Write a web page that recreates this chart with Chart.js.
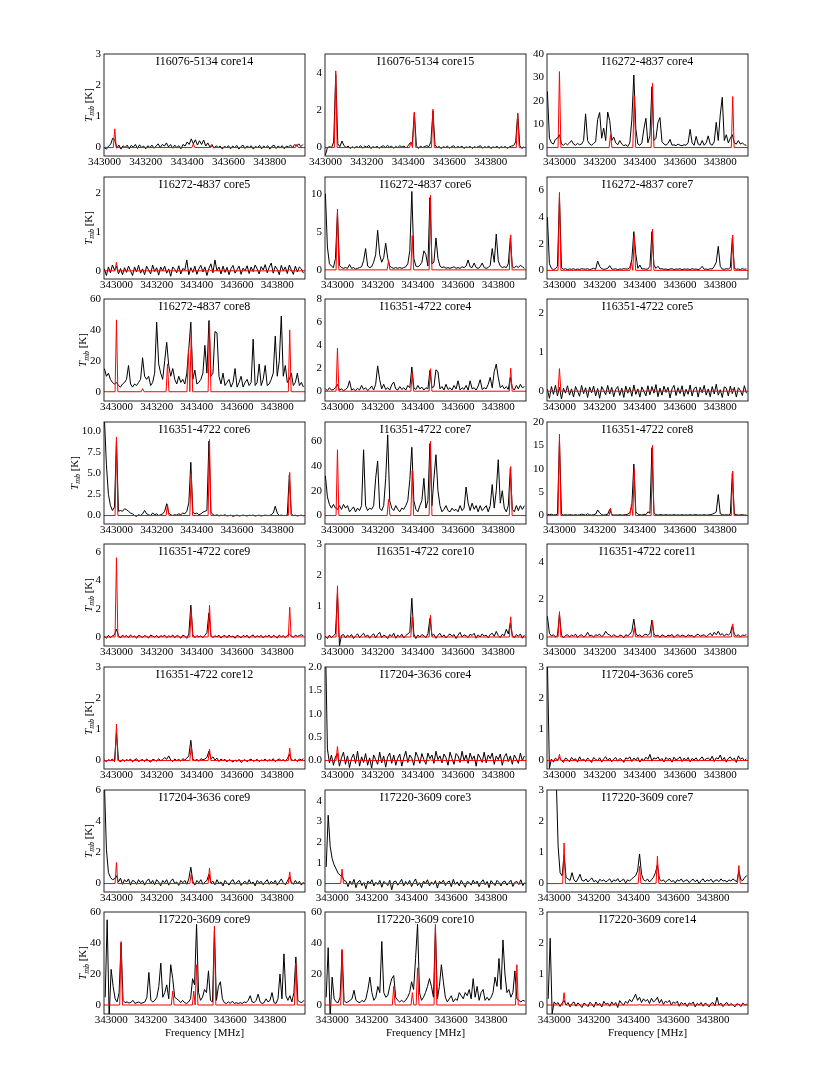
<!DOCTYPE html>
<html><head><meta charset="utf-8">
<script src="https://cdn.jsdelivr.net/npm/chart.js@4.4.1/dist/chart.umd.min.js"></script>
<style>
html,body{margin:0;padding:0;background:#fff;}
#fig{position:relative;width:830px;height:1068px;overflow:hidden;background:#fff;}
#fig canvas{position:absolute;}
</style></head><body><div id="fig"></div>
<script>
// ---------------- data ----------------
const panelTitles = [
 "I16076-5134 core14","I16076-5134 core15","I16272-4837 core4",
 "I16272-4837 core5","I16272-4837 core6","I16272-4837 core7",
 "I16272-4837 core8","I16351-4722 core4","I16351-4722 core5",
 "I16351-4722 core6","I16351-4722 core7","I16351-4722 core8",
 "I16351-4722 core9","I16351-4722 core10","I16351-4722 core11",
 "I16351-4722 core12","I17204-3636 core4","I17204-3636 core5",
 "I17204-3636 core9","I17220-3609 core3","I17220-3609 core7",
 "I17220-3609 core9","I17220-3609 core10","I17220-3609 core14"];
const freqMin = [342998,342998,342938, 342938,342938,342938, 342938,342938,342938, 342938,342938,342938,
                 342938,342938,342938, 342938,342938,342938, 342938,342964,342964, 342964,342964,342964];
const freqMax = [343970,343970,343938, 343938,343938,343938, 343938,343938,343938, 343938,343938,343938,
                 343938,343938,343938, 343938,343938,343938, 343938,343976,343976, 343976,343976,343976];
const firstChannel = [343000,343000,342940, 342940,342940,342940, 342940,342940,342940, 342940,342940,342940,
                      342940,342940,342940, 342940,342940,342940, 342940,342970,342970, 342970,342970,342970];
const channelStep = 10;
const yMin = [-0.27,-0.45,-3.6, -0.21,-1.2,-0.65, -6,-0.85,-0.25, -1.0,-6.8,-1.8,
              -0.64,-0.29,-0.48, -0.27,-0.18,-0.27, -0.54,-0.41,-0.27, -5.8,-5.8,-0.29];
const yMax = [3,5.0,40, 2.41,12.2,7.0, 60,8,2.36, 11.07,75.4,20, 6.57,3,4.95, 3,2.0,3, 6,4.52,3, 60,60,3];
const yTicks = [[0,1,2,3],[0,2,4],[0,10,20,30,40],
  [0,1,2],[0,5,10],[0,2,4,6],
  [0,20,40,60],[0,2,4,6,8],[0,1,2],
  [0,2.5,5,7.5,10],[0,20,40,60],[0,5,10,15,20],
  [0,2,4,6],[0,1,2,3],[0,2,4],
  [0,1,2,3],[0,0.5,1,1.5,2],[0,1,2,3],
  [0,2,4,6],[0,1,2,3,4],[0,1,2,3],
  [0,20,40,60],[0,20,40,60],[0,1,2,3]];
const yTickDecimals = [0,0,0, 0,0,0, 0,0,0, 1,0,0, 0,0,0, 0,1,0, 0,0,0, 0,0,0];
const xTicks = [343000,343200,343400,343600,343800];

// observed spectra (black), one value per 10 MHz channel starting at firstChannel
const spec01 = [0.00,-0.05,0.05,0.10,0.30,0.25,-0.02,0.08,-0.05,0.06,
 0.00,0.08,-0.04,0.07,0.02,0.10,-0.03,0.09,0.00,0.05,
 -0.04,0.06,0.00,0.08,-0.02,0.05,0.12,0.00,0.10,0.05,
 0.15,0.02,0.10,-0.02,0.08,0.00,0.06,-0.04,0.10,0.05,
 0.18,0.10,0.28,0.12,0.25,0.08,0.22,0.10,0.24,0.05,
 0.15,0.02,0.10,-0.02,0.06,0.00,0.05,-0.05,0.04,0.00,
 0.06,-0.04,0.05,0.00,0.07,-0.05,0.03,0.08,-0.03,0.05,
 0.00,0.06,-0.05,0.04,0.00,0.07,-0.04,0.05,0.00,0.06,
 -0.05,0.04,0.08,-0.03,0.05,0.00,0.06,-0.04,0.05,0.02,
 0.08,0.00,0.10,0.05,0.12,0.03,0.10];
const spec02 = [-0.40,0.00,0.05,0.00,0.30,3.90,0.20,0.05,0.35,0.10,
 0.00,0.08,-0.05,0.05,-0.02,0.06,0.00,0.10,-0.03,0.08,
 0.02,0.12,-0.05,0.05,0.00,0.07,-0.04,0.05,0.10,0.00,
 0.12,0.02,0.08,-0.04,0.06,0.00,0.10,0.02,0.08,-0.02,
 0.10,0.25,0.20,1.85,0.10,-0.05,0.08,0.00,0.06,0.10,
 0.05,0.30,1.95,0.15,0.00,0.06,-0.05,0.05,0.00,0.08,
 -0.04,0.05,0.10,-0.02,0.06,0.00,0.08,-0.05,0.04,0.00,
 0.07,-0.05,0.05,0.00,0.06,0.10,-0.04,0.05,0.00,0.08,
 -0.05,0.04,0.00,0.07,-0.04,0.05,0.00,0.06,-0.05,0.04,
 0.08,0.10,0.30,1.80,0.10,-0.05,0.05];
const spec03 = [24,4,2,1.5,3.5,4,5.5,1.5,1,1.8,
 1.2,2,3,1.5,1,1.8,1.2,1.5,3,14.4,
 3,1.5,1,1.8,2.5,12,15,4,8.3,3,
 15.2,11.5,3,4.5,2,1.2,3,1.5,0.8,1.2,
 0.5,2,11.8,31,8,1.5,1,2,8,12.5,
 2,5,26,3,4,10.8,12.8,2.5,1.5,1,
 1.8,3.5,1,1.2,0.8,1.5,1,0.8,1.2,1,
 2,7.8,2,1,4.8,1.5,1,3,1,2,
 5,1.5,1,2.5,10.8,3,14,21.5,3,5.5,
 2,4,5.5,2,1.5,3,1.5,2,1.2,1];
const spec04 = [0.05,-0.12,0.10,-0.05,0.15,0.02,0.12,-0.08,0.06,-0.10,
 0.08,-0.04,0.12,0.00,-0.12,0.10,-0.03,0.14,-0.06,0.05,
 -0.10,0.12,0.02,-0.08,0.15,-0.02,0.08,-0.11,0.10,0.00,
 0.12,-0.06,0.05,-0.14,0.10,0.04,-0.05,0.13,-0.08,0.06,
 0.02,0.28,-0.10,0.08,-0.04,0.12,-0.09,0.05,0.14,-0.03,
 0.10,-0.12,0.06,0.18,-0.05,0.28,0.00,0.10,-0.08,0.12,
 -0.04,0.09,-0.10,0.06,0.14,-0.06,0.03,0.12,-0.09,0.07,
 0.00,0.13,-0.07,0.10,-0.02,0.15,0.05,-0.08,0.11,0.02,
 0.16,-0.05,0.09,0.20,-0.06,0.12,0.04,-0.10,0.14,0.00,
 0.10,-0.07,0.15,0.02,-0.09,0.12,-0.03,0.10,0.05,-0.06];
const spec05 = [10,3,0.8,0.5,0.3,1.5,7.5,0.6,0.3,0.2,
 0.3,0.2,0.7,0.2,0.3,0.1,0.2,0.3,0.4,1.2,
 2.8,0.5,0.3,0.4,1.0,2.0,5.2,2.0,1.0,1.6,
 3.5,1.5,0.5,0.3,0.2,0.3,0.2,0.3,0.2,0.3,
 0.4,0.8,2.5,10.3,1.5,0.5,0.4,0.6,1.0,2.5,
 2.0,0.5,9.5,0.8,1.0,4.2,1.5,0.5,0.3,0.4,
 0.2,0.3,0.2,0.3,0.4,0.2,0.3,0.2,0.4,0.3,
 0.5,1.3,0.4,0.3,0.9,0.3,0.2,0.4,0.9,0.3,
 0.2,0.3,0.6,2.8,1.0,4.7,1.2,0.5,0.3,0.4,
 0.3,0.8,4.2,0.4,0.3,0.5,0.3,0.6,0.4,0.2];
const spec06 = [4.0,0.5,0.15,0.05,0.12,0.3,5.5,0.2,0.08,0.12,
 0.05,0.1,0.08,0.12,0.05,0.1,0.06,0.12,0.1,0.08,
 0.12,0.05,0.1,0.15,0.08,0.7,0.3,0.12,0.08,0.1,
 0.15,0.35,0.1,0.08,0.12,0.05,0.1,0.08,0.12,0.1,
 0.1,0.2,0.8,2.9,1.2,0.15,0.4,0.1,0.12,0.08,
 0.1,0.3,2.9,0.4,0.15,0.3,0.1,0.12,0.08,0.1,
 0.05,0.1,0.12,0.06,0.1,0.08,0.12,0.05,0.1,0.08,
 0.1,0.06,0.12,0.08,0.1,0.05,0.12,0.3,0.08,0.1,
 0.06,0.12,0.1,0.3,0.6,1.8,0.3,0.1,0.08,0.12,
 0.1,0.2,2.4,0.15,0.08,0.1,0.06,0.12,0.08,0.1];
const spec07 = [15,10,12,8,6,5,6,4,3,5,
 6,8,17,5,3,5,4,6,8,22,
 10,8,10,4,6,12,45,18,12,8,
 20,32,17,10,15,8,5,10,6,8,
 5,12,28,45,8,14,5,6,8,12,
 30,12,46,10,12,39,38,10,5,12,
 4,6,8,3,6,15,3,6,10,3,
 6,8,4,6,34,4,6,18,4,8,
 17,4,5,8,12,36,10,20,49,10,
 17,6,8,12,4,6,12,4,6,3];
const spec08 = [0.2,0.05,0.3,0.1,0.15,0.3,0.6,0.1,0.2,0.05,
 0.15,0.3,0.9,0.1,0.2,0.05,0.25,0.1,0.5,0.15,
 0.3,0.05,0.2,0.45,0.1,0.6,2.2,1.0,0.2,0.6,
 0.15,0.3,0.1,0.55,0.8,0.2,0.1,0.4,0.15,0.3,
 0.1,0.5,0.3,2.1,0.3,0.15,0.5,0.2,0.35,0.1,
 0.3,0.2,1.8,0.3,0.4,1.85,1.7,0.2,0.4,0.1,
 0.6,0.15,0.3,0.1,0.5,0.2,0.9,0.1,0.3,0.15,
 0.5,0.1,0.9,0.2,0.3,0.1,0.45,1.0,0.15,0.3,
 0.2,0.6,1.2,0.3,1.7,2.35,1.2,0.3,0.5,0.2,
 0.4,0.15,1.2,0.3,0.1,0.5,0.2,0.6,0.3,0.4];
const spec09 = [0.05,-0.18,0.12,-0.08,0.15,-0.12,0.10,-0.20,0.08,-0.05,
 0.14,-0.10,0.06,-0.15,0.12,0.00,-0.13,0.15,-0.06,0.09,
 -0.16,0.11,-0.04,0.13,-0.12,0.07,-0.18,0.12,0.02,-0.09,
 0.15,-0.07,0.10,-0.14,0.05,0.12,-0.11,0.08,-0.16,0.13,
 -0.05,0.10,-0.13,0.16,-0.08,0.06,-0.15,0.11,0.00,-0.12,
 0.14,-0.09,0.12,-0.05,0.17,-0.14,0.08,-0.10,0.13,-0.03,
 0.10,-0.17,0.06,0.15,-0.11,0.09,-0.06,0.14,-0.13,0.05,
 -0.08,0.16,-0.12,0.07,0.11,-0.15,0.10,-0.04,0.15,-0.10,
 0.06,-0.14,0.12,-0.07,0.18,-0.10,0.04,-0.16,0.11,0.08,
 -0.12,0.13,-0.06,0.10,-0.15,0.09,0.02,-0.11,0.14,-0.05];
const spec10 = [11.5,6,2.5,1.2,0.6,1.0,8.8,0.5,0.6,0.5,
 0.8,0.7,0.5,0.3,0.2,0.0,-0.1,0.1,0.0,0.2,
 0.6,0.2,0.1,0.0,0.3,0.1,0.2,0.0,0.1,0.2,
 0.5,1.4,0.3,0.1,0.0,0.1,0.05,0.2,0.1,0.3,
 0.2,0.5,1.5,6.3,0.4,0.2,0.3,0.1,0.2,0.4,
 0.5,0.6,8.8,0.4,0.1,0.0,0.1,-0.05,0.05,0.0,
 0.1,-0.05,0.0,0.05,-0.1,0.0,0.05,-0.05,0.0,0.05,
 0.0,-0.05,0.05,0.0,0.05,-0.05,0.0,0.05,-0.05,0.0,
 0.05,0.0,0.0,0.1,0.3,1.1,0.3,0.0,0.05,0.0,
 0.0,0.1,4.8,0.2,0.0,0.05,-0.05,0.0,0.05,-0.05];
const spec11 = [32,15,9,6,9,6,5,8,5,9,
 6,8,3,5,7,3,6,4,8,53,
 8,4,6,5,8,30,44,6,4,8,
 30,65,12,6,4,8,5,3,6,5,
 8,12,29,55,12,5,3,8,12,30,
 6,12,58,8,30,49,20,8,3,5,
 8,4,3,6,4,5,3,8,4,6,
 23,10,4,10,5,8,3,8,4,6,
 8,3,8,25,6,20,45,10,20,6,
 3,8,38,5,3,8,4,8,5,8];
const spec12 = [0.3,0.2,0.3,0.1,0.2,0.3,16,0.3,0.1,0.2,
 0.1,0.2,0.15,0.1,0.2,0.1,0.15,0.3,0.2,0.1,
 0.4,0.15,0.1,0.2,0.3,1.2,0.6,0.2,0.1,0.2,
 0.3,1.3,0.2,0.1,0.15,0.1,0.2,0.1,0.15,0.2,
 0.3,0.6,2.0,11,0.8,0.3,0.2,0.1,0.3,0.2,
 0.8,0.5,14.5,0.6,0.2,0.1,0.2,0.15,0.1,0.2,
 0.1,0.15,0.1,0.2,0.1,0.15,0.1,0.2,0.1,0.15,
 0.1,0.2,0.1,0.15,0.2,0.1,0.15,0.1,0.2,0.1,
 0.15,0.2,0.3,0.5,0.8,4.5,0.4,0.2,0.1,0.2,
 0.1,0.3,9.0,0.3,0.2,0.1,0.15,0.2,0.1,0.15];
const spec13 = [0.05,-0.10,0.12,-0.05,0.08,0.15,0.55,0.10,-0.08,0.12,
 0.02,0.10,-0.06,0.14,0.00,0.08,-0.10,0.12,0.05,-0.04,
 0.10,0.04,-0.08,0.13,0.06,-0.02,0.11,-0.07,0.09,0.03,
 0.12,-0.05,0.08,0.00,0.14,-0.06,0.10,0.05,-0.09,0.12,
 0.06,-0.10,0.20,2.25,0.15,-0.05,0.10,0.00,0.08,-0.06,
 0.12,0.30,1.70,0.10,-0.04,0.08,0.02,0.12,-0.08,0.06,
 0.10,-0.05,0.13,0.00,0.07,-0.09,0.11,0.04,-0.06,0.10,
 0.02,0.12,-0.08,0.06,0.14,-0.04,0.09,0.00,0.11,-0.07,
 0.08,0.03,0.12,-0.06,0.10,0.05,-0.08,0.13,0.00,0.09,
 -0.05,0.11,0.20,0.06,-0.03,0.12,0.04,0.10,0.15,0.08];
const spec14 = [0.02,-0.05,0.06,-0.02,0.04,0.10,1.40,-0.28,0.05,0.08,
 -0.03,0.06,0.00,0.08,-0.05,0.04,0.10,-0.02,0.06,0.12,
 0.00,0.07,-0.04,0.05,0.10,-0.03,0.08,0.15,-0.02,0.06,
 0.03,-0.05,0.08,0.02,0.12,-0.04,0.06,0.00,0.09,-0.03,
 0.05,0.10,0.15,1.25,0.10,-0.05,0.06,0.00,0.08,0.04,
 -0.02,0.10,0.60,0.05,0.08,-0.04,0.06,0.12,0.00,0.07,
 -0.03,0.05,0.10,0.02,0.08,-0.05,0.06,0.15,0.00,0.07,
 0.04,-0.02,0.09,0.05,0.12,-0.04,0.07,0.00,0.10,0.03,
 0.06,-0.03,0.08,0.12,0.02,0.18,0.05,-0.02,0.09,0.04,
 0.25,0.10,0.45,0.06,-0.03,0.08,0.02,0.10,-0.04,0.06];
const spec15 = [1.10,0.20,0.05,0.12,0.00,0.08,1.20,0.10,-0.05,0.08,
 0.12,0.00,0.10,0.05,0.15,-0.03,0.08,0.12,0.00,0.06,
 0.25,0.05,0.10,-0.02,0.12,0.08,0.15,0.02,0.10,0.30,
 0.15,0.10,0.02,0.12,0.05,0.00,0.10,0.08,-0.04,0.12,
 0.06,0.15,0.30,0.95,0.20,0.05,0.12,0.00,0.10,0.15,
 0.08,0.20,0.90,0.15,0.05,0.10,-0.02,0.12,0.06,0.00,
 0.10,0.05,0.14,-0.03,0.08,0.12,0.02,0.10,0.06,0.00,
 0.12,0.05,0.09,-0.02,0.10,0.15,0.04,0.08,0.12,0.00,
 0.10,0.20,0.06,0.25,0.12,0.30,0.10,0.18,0.05,0.15,
 0.10,0.20,0.60,0.15,0.05,0.12,0.00,0.10,0.08,0.12];
const spec16 = [0.02,-0.04,0.03,0.00,0.05,-0.03,0.90,0.02,-0.05,0.04,
 -0.02,0.03,0.00,0.05,-0.04,0.02,0.06,-0.03,0.01,0.04,
 -0.03,0.05,0.00,-0.05,0.04,0.02,-0.02,0.06,0.00,0.03,
 0.10,0.04,0.15,0.02,-0.03,0.05,0.00,0.04,-0.02,0.06,
 0.02,0.08,0.15,0.65,0.05,0.00,0.04,-0.02,0.06,0.03,
 0.05,0.10,0.30,0.06,0.12,0.02,0.08,-0.03,0.05,0.00,
 0.04,-0.04,0.03,0.00,-0.05,0.02,-0.03,0.04,-0.06,0.00,
 0.03,-0.04,0.02,0.05,-0.02,0.00,0.04,-0.03,0.02,0.00,
 0.05,-0.02,0.03,0.00,0.06,-0.03,0.02,0.05,0.00,0.03,
 -0.02,0.06,0.20,0.03,0.00,0.04,-0.03,0.05,0.02,0.06];
const spec17 = [2.60,0.25,-0.05,0.12,-0.10,0.08,0.15,-0.12,0.06,0.18,
 -0.08,0.10,-0.15,0.05,0.14,-0.06,0.20,-0.12,0.08,-0.04,
 0.15,-0.10,0.06,-0.16,0.12,0.02,-0.08,0.18,-0.05,0.10,
 -0.14,0.08,0.16,-0.06,0.12,-0.10,0.05,0.14,-0.12,0.06,
 0.20,-0.04,0.12,0.05,-0.10,0.18,0.08,-0.06,0.15,0.02,
 -0.08,0.16,0.04,0.12,-0.06,0.20,0.02,0.10,-0.05,0.14,
 0.06,-0.10,0.18,0.04,-0.08,0.15,0.10,-0.04,0.20,0.00,
 0.12,-0.06,0.16,0.02,0.10,-0.12,0.14,0.06,-0.04,0.18,
 -0.05,0.12,0.04,0.16,-0.08,0.10,0.02,0.14,-0.10,0.08,
 0.15,-0.02,0.10,-0.08,0.12,0.04,-0.06,0.16,0.00,0.10];
const spec18 = [3.20,-0.25,0.05,-0.05,0.08,0.02,0.10,0.00,-0.06,0.08,
 0.04,-0.04,0.10,0.02,0.06,-0.05,0.12,0.00,0.05,-0.03,
 0.08,0.02,-0.06,0.10,0.04,0.00,0.09,-0.05,0.06,0.12,
 0.00,0.08,-0.04,0.05,0.10,-0.02,0.07,0.03,-0.06,0.09,
 0.05,0.12,-0.03,0.08,0.02,0.10,-0.05,0.06,0.00,0.11,
 0.04,0.20,-0.02,0.09,0.05,0.12,0.00,0.07,-0.04,0.10,
 0.03,0.08,-0.05,0.11,0.02,0.06,0.12,-0.03,0.08,0.00,
 0.10,-0.04,0.07,0.02,0.09,-0.02,0.05,0.12,0.00,0.06,
 0.08,0.02,0.14,-0.03,0.09,0.05,0.18,0.00,0.10,-0.05,
 0.07,0.12,0.02,0.08,-0.06,0.15,0.04,0.09,0.00,0.05];
const spec19 = [6.50,2.20,0.70,0.40,0.25,0.30,0.50,0.10,0.35,-0.05,
 0.25,0.10,0.30,-0.10,0.20,0.15,-0.05,0.25,0.05,0.20,
 -0.10,0.15,0.30,0.00,0.20,-0.08,0.25,0.10,-0.15,0.20,
 0.05,0.25,-0.10,0.15,0.30,0.00,0.10,-0.12,0.20,0.05,
 0.20,-0.05,0.30,1.05,0.15,-0.10,0.20,0.05,0.25,-0.05,
 0.10,0.20,0.60,0.05,0.15,-0.08,0.25,0.00,0.10,-0.15,
 0.20,0.05,-0.10,0.15,0.25,-0.05,0.10,0.20,-0.12,0.05,
 0.15,-0.05,0.25,0.00,0.10,-0.15,0.20,0.05,0.15,-0.08,
 0.10,0.25,-0.05,0.15,0.00,0.20,-0.10,0.10,0.30,0.05,
 -0.08,0.15,0.40,0.10,-0.05,0.20,0.00,0.15,-0.10,0.10];
const spec20 = [0.8,3.3,1.8,1.2,0.9,0.7,0.5,0.4,0.35,0.15,
 0.10,-0.15,0.12,-0.05,0.20,-0.20,0.08,0.15,-0.10,0.05,
 -0.25,0.12,0.00,0.18,-0.12,0.06,-0.05,0.15,-0.18,0.10,
 0.02,-0.10,0.16,-0.30,0.08,0.12,-0.08,0.05,0.20,-0.12,
 0.10,-0.05,0.15,-0.15,0.06,0.22,-0.10,0.04,-0.20,0.12,
 0.00,0.18,-0.12,0.08,-0.05,0.14,-0.22,0.10,0.02,0.16,
 -0.10,0.06,0.12,-0.15,0.20,-0.04,0.08,-0.12,0.15,0.00,
 -0.18,0.10,0.05,-0.08,0.16,-0.02,0.12,-0.15,0.06,0.18,
 -0.06,0.10,-0.20,0.14,0.02,-0.10,0.15,0.05,-0.12,0.08,
 0.12,-0.08,0.04,0.16,-0.14,0.06,0.10,-0.05,0.18,-0.10,
 0.05];
const spec21 = [5.0,6.0,6.0,5.0,3.5,1.2,0.35,0.25,0.9,0.2,
 0.15,0.10,0.35,0.12,0.05,0.15,0.30,0.10,0.08,0.15,
 0.05,0.12,0.18,0.06,0.10,0.02,0.14,0.08,0.12,0.05,
 0.10,0.15,0.04,0.12,0.08,0.16,0.05,0.10,0.14,0.02,
 0.12,0.08,0.15,0.20,0.25,0.40,0.95,0.30,0.12,0.08,
 0.15,0.05,0.12,0.20,0.35,0.60,0.15,0.08,0.12,0.04,
 0.10,0.14,0.06,0.10,0.02,0.12,0.08,0.15,0.05,0.10,
 0.12,0.03,0.10,0.14,0.06,0.12,0.00,0.10,0.15,0.05,
 0.12,0.08,0.14,0.04,0.10,0.12,0.06,0.15,0.08,0.10,
 0.05,0.12,0.08,0.15,0.10,0.06,0.40,0.12,0.10,0.20,
 0.25];
const spec22 = [5,55,-8,23,12,4,2,8,40,3,
 1.5,2,1.2,1.8,3,1,1.5,2,1,1.5,
 2,5,21,3,2,3,5,12,27,5,
 8,13,4,26,17,5,4,3,1.5,3,
 1.5,1,2,4,17,13,52,8,3,5,
 10,8,22,3,2,48,3,12,15,4,
 1.5,1,2,1,2.5,1,1.5,1,1.5,1,
 2,1.5,3,6,2,1.5,3,7,2,1,
 1.5,4,2,3,8,1.5,1,4,20,4,
 33,6,3,6,2,8,31,3,2,1.5,
 3];
const spec23 = [5,37,-8,18,4,2,1.5,5,35,3,
 1.5,2,3,4,9.5,3,2,1.5,3,2,
 4,10,18,8,3,5,12,8,41,8,
 5,6,12,17,19,5,3,2,3,2,
 3,5,8,15,10,30,52,8,3,5,
 8,12,17,12,5,50,4,12,26,15,
 5,2,4,6,2,4,3,8,6,4,
 8,6,10,4,17,5,12,3,8,10,
 3,5,3,5,8,18,12,30,10,42,
 20,8,10,5,8,22,4,3,2,3,
 2.5];
const spec24 = [0.20,2.15,-0.28,0.10,0.02,0.08,-0.05,0.06,0.15,0.00,
 0.08,-0.06,0.05,0.10,-0.04,0.07,0.00,-0.08,0.06,0.02,
 -0.05,0.09,0.03,-0.07,0.10,0.00,0.05,-0.06,0.12,0.02,
 0.06,-0.04,0.10,0.00,0.08,-0.08,0.14,0.05,0.00,0.12,
 0.05,0.18,0.10,0.22,0.35,0.15,0.25,0.08,0.20,0.12,
 0.18,0.05,0.22,0.10,0.15,0.25,0.06,0.18,0.02,0.12,
 0.08,0.15,0.00,0.10,0.05,0.12,-0.04,0.08,0.02,0.06,
 -0.05,0.07,0.02,0.10,-0.06,0.05,0.00,0.08,-0.04,0.06,
 0.02,-0.06,0.05,0.08,-0.03,0.25,0.00,0.06,-0.05,0.04,
 0.08,-0.02,0.05,0.00,-0.06,0.04,0.02,-0.05,0.06,0.00,
 0.03];

// model lines (red): [frequency MHz, peak Tmb K]; model is zero elsewhere
const model01 = [[343050,0.6],[343430,0.12],[343520,0.05],[343930,0.1]];
const model02 = [[343050,4.1],[343414,0.3],[343430,1.9],[343520,2.05],[343930,1.85]];
const model03 = [[343000,32.5],[343254,5.5],[343372,22],[343463,27.5],[343862,21.8]];
const model04 = [[343000,0.22],[343372,0.03],[343463,0.03],[343862,0.03]];
const model05 = [[343000,8.0],[343254,1.2],[343372,4.5],[343463,9.8],[343862,4.6]];
const model06 = [[343000,5.85],[343358,0.6],[343372,2.6],[343463,3.1],[343862,2.65]];
const model07 = [[343000,46.5],[343130,2],[343254,18],[343358,27],[343372,37],[343463,46],[343862,40]];
const model08 = [[343000,3.75],[343372,1.6],[343463,1.95],[343862,2.0]];
const model09 = [[343000,0.58],[343372,0.06],[343463,0.06],[343862,0.06]];
const model10 = [[343000,9.3],[343254,1.3],[343372,5.0],[343463,9.0],[343862,5.1]];
const model11 = [[343000,53],[343254,13],[343372,36],[343463,60],[343862,39.5]];
const model12 = [[343000,17.4],[343254,1.6],[343358,2.4],[343372,10],[343463,15],[343862,9.5]];
const model13 = [[343000,5.6],[343372,2.0],[343463,2.25],[343862,2.1]];
const model14 = [[343000,1.65],[343372,0.65],[343463,0.7],[343862,0.65]];
const model15 = [[343000,1.35],[343372,0.5],[343463,0.85],[343862,0.7]];
const model16 = [[343000,1.17],[343372,0.45],[343463,0.37],[343862,0.4]];
const model17 = [[343000,0.3],[343372,0.02],[343463,0.02],[343862,0.02]];
const model18 = [[343000,0.2],[343372,0.02],[343463,0.02],[343862,0.02]];
const model19 = [[343000,1.35],[343372,0.6],[343463,1.0],[343862,0.75]];
const model20 = [[343050,0.7],[343430,0.03],[343520,0.03],[343930,0.03]];
const model21 = [[343050,1.3],[343430,0.55],[343520,0.88],[343930,0.58]];
const model22 = [[343050,41],[343310,9],[343416,9],[343430,26],[343520,51],[343930,27]];
const model23 = [[343050,36],[343310,12],[343404,8],[343430,24],[343520,52],[343930,26]];
const model24 = [[343050,0.4],[343430,0.02],[343520,0.02],[343930,0.02]];

const spectra = [spec01,spec02,spec03,spec04,spec05,spec06,spec07,spec08,spec09,spec10,spec11,spec12,
                 spec13,spec14,spec15,spec16,spec17,spec18,spec19,spec20,spec21,spec22,spec23,spec24];
const models = [model01,model02,model03,model04,model05,model06,model07,model08,model09,model10,model11,model12,
                model13,model14,model15,model16,model17,model18,model19,model20,model21,model22,model23,model24];

// ---------------- layout ----------------
const FONT = '"Liberation Serif","Times New Roman",serif';
Chart.defaults.font.family = FONT;
Chart.defaults.font.size = 11;
Chart.defaults.color = '#000';

const colLeft = [103.5, 325, 546.5];
const panelW = 201, panelH = 102, rowTop0 = 54, rowPitch = 122.6;
const padL = 50, padT = 10, padR = 10;

const decor = {
  id: 'panelDecor',
  afterDatasetsDraw(chart, args, o) {
    const a = chart.chartArea, ctx = chart.ctx;
    ctx.save();
    ctx.strokeStyle = '#111';
    ctx.lineWidth = 0.9;
    ctx.strokeRect(a.left, a.top, a.right - a.left, a.bottom - a.top);
    ctx.fillStyle = '#000';
    ctx.font = '12px ' + FONT;
    ctx.textAlign = 'center';
    ctx.textBaseline = 'top';
    ctx.fillText(o.title, (a.left + a.right) / 2, a.top + 2);
    if (o.xlabel) {
      ctx.font = '11px ' + FONT;
      ctx.textAlign = 'center';
      ctx.textBaseline = 'middle';
      ctx.fillText('Frequency [MHz]', (a.left + a.right) / 2, a.bottom + 19);
    }
    if (o.ylabel) {
      ctx.font = '11px ' + FONT;
      let mw = 0;
      for (const l of o.tickLabels) mw = Math.max(mw, ctx.measureText(l).width);
      const cx = a.left - mw - 10.5, cy = (a.top + a.bottom) / 2;
      ctx.translate(cx, cy);
      ctx.rotate(-Math.PI / 2);
      ctx.textAlign = 'left';
      ctx.textBaseline = 'alphabetic';
      const fT = 'italic 11px ' + FONT, fS = 'italic 8px ' + FONT, fK = '11px ' + FONT;
      ctx.font = fT; const wT = ctx.measureText('T').width;
      ctx.font = fS; const wS = ctx.measureText('mb').width;
      ctx.font = fK; const wK = ctx.measureText(' [K]').width;
      const x0 = -(wT + wS + wK) / 2;
      ctx.font = fT; ctx.fillText('T', x0, 3.5);
      ctx.font = fS; ctx.fillText('mb', x0 + wT, 6);
      ctx.font = fK; ctx.fillText(' [K]', x0 + wT + wS, 3.5);
    }
    ctx.restore();
  }
};

const fig = document.getElementById('fig');
for (let p = 0; p < 24; p++) {
  const r = Math.floor(p / 3), c = p % 3;
  const left = colLeft[c], top = rowTop0 + r * rowPitch;
  const padB = (r === 7) ? 34 : 20;
  const cw = padL + panelW + padR, ch = padT + panelH + padB;
  const cv = document.createElement('canvas');
  cv.width = cw; cv.height = ch;
  cv.style.left = (left - padL) + 'px';
  cv.style.top = (top - padT) + 'px';
  cv.style.width = cw + 'px'; cv.style.height = ch + 'px';
  fig.appendChild(cv);

  const obs = spectra[p].map((t, i) => ({x: firstChannel[p] + i * channelStep, y: t}));
  const mod = [{x: freqMin[p], y: 0}];
  for (const [f, t] of models[p]) {
    mod.push({x: f - 7, y: 0}, {x: f, y: t}, {x: f + 7, y: 0});
  }
  mod.push({x: freqMax[p], y: 0});
  const dec = yTickDecimals[p];
  const tickLabels = yTicks[p].map(v => v.toFixed(dec));

  new Chart(cv, {
    type: 'line',
    data: {
      datasets: [
        {data: mod, borderColor: '#ff0000', borderWidth: 1, pointRadius: 0, tension: 0, order: 0},
        {data: obs, borderColor: '#000000', borderWidth: 1, pointRadius: 0, tension: 0, order: 1}
      ]
    },
    options: {
      responsive: false,
      animation: false,
      parsing: false,
      events: [],
      layout: {padding: {left: 0, right: padR, top: padT, bottom: padB - 18}},
      plugins: {
        legend: {display: false},
        tooltip: {enabled: false},
        panelDecor: {title: panelTitles[p], ylabel: c === 0, xlabel: r === 7, tickLabels: tickLabels}
      },
      scales: {
        x: {
          type: 'linear', min: freqMin[p], max: freqMax[p],
          grid: {display: false, drawTicks: false},
          border: {display: false},
          afterBuildTicks: s => { s.ticks = xTicks.map(v => ({value: v})); },
          afterFit: s => { s.height = 18; },
          ticks: {autoSkip: false, maxRotation: 0, padding: 0, font: {size: 11}, callback: v => String(v)}
        },
        y: {
          type: 'linear', min: yMin[p], max: yMax[p],
          grid: {display: false, drawTicks: false},
          border: {display: false},
          afterBuildTicks: s => { s.ticks = yTicks[p].map(v => ({value: v})); },
          afterFit: s => { s.width = padL; },
          ticks: {autoSkip: false, padding: 3, font: {size: 11}, callback: v => Number(v).toFixed(dec)}
        }
      }
    },
    plugins: [decor]
  });
}
</script>
</body></html>
